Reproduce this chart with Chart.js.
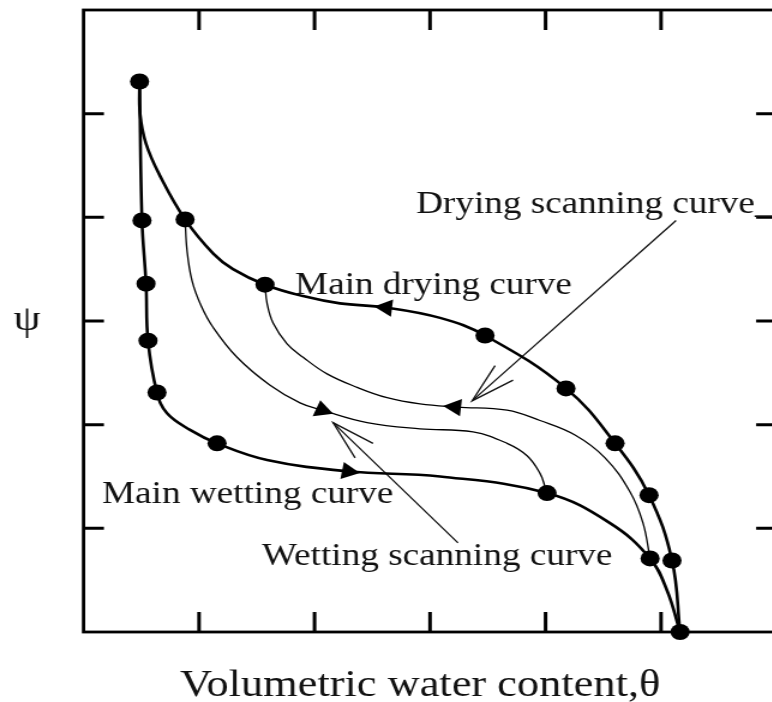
<!DOCTYPE html>
<html>
<head>
<meta charset="utf-8">
<script src="https://cdn.jsdelivr.net/npm/chart.js@4.4.1/dist/chart.umd.min.js"></script>
<style>
    html, body { margin: 0; padding: 0; background: #fff; overflow: hidden; }
    /* the whole figure is drawn a little narrower and stretched sideways */
    #wrap { width: 660px; height: 702px; transform: scaleX(1.2); transform-origin: 0 0; }
    canvas { display: block; }
</style>
</head>
<body>
<div id="wrap"><canvas id="canvasChart" width="660" height="702"></canvas></div>
<script>
// theta in %, psi in arbitrary units
var mainDrying = [
    {x: 4.85, y: 5.31}, {x: 4.89, y: 5.00}, {x: 5.41, y: 4.71}, {x: 6.62, y: 4.40},
    {x: 8.79, y: 3.98}, {x: 11.23, y: 3.65}, {x: 12.94, y: 3.50}, {x: 15.71, y: 3.35},
    {x: 19.00, y: 3.24}, {x: 22.20, y: 3.17}, {x: 26.19, y: 3.13}, {x: 30.87, y: 3.03},
    {x: 34.76, y: 2.86}, {x: 41.77, y: 2.35}, {x: 46.02, y: 1.82}, {x: 48.96, y: 1.32},
    {x: 50.95, y: 0.69}, {x: 51.65, y: 0.00}
];
var mainWetting = [
    {x: 4.85, y: 5.31}, {x: 5.06, y: 3.97}, {x: 5.41, y: 3.36}, {x: 5.58, y: 2.81},
    {x: 6.36, y: 2.31}, {x: 7.23, y: 2.11}, {x: 9.22, y: 1.95}, {x: 11.56, y: 1.82},
    {x: 15.89, y: 1.66}, {x: 22.90, y: 1.55}, {x: 30.87, y: 1.50}, {x: 40.13, y: 1.34},
    {x: 45.58, y: 1.05}, {x: 49.05, y: 0.71}, {x: 50.52, y: 0.40}, {x: 51.65, y: 0.00}
];
var dryingScan = [
    {x: 15.71, y: 3.35}, {x: 15.89, y: 3.17}, {x: 16.41, y: 2.98}, {x: 17.62, y: 2.78},
    {x: 19.01, y: 2.65}, {x: 21.08, y: 2.49}, {x: 23.68, y: 2.36}, {x: 26.28, y: 2.26},
    {x: 29.13, y: 2.20}, {x: 32.34, y: 2.17}, {x: 36.67, y: 2.14}, {x: 39.52, y: 2.04},
    {x: 42.55, y: 1.90}, {x: 45.15, y: 1.68}, {x: 47.32, y: 1.35}, {x: 48.44, y: 1.05},
    {x: 49.05, y: 0.71}
];
var wettingScan = [
    {x: 8.79, y: 3.98}, {x: 8.96, y: 3.68}, {x: 9.39, y: 3.39}, {x: 10.17, y: 3.15},
    {x: 11.21, y: 2.94}, {x: 13.29, y: 2.65}, {x: 16.15, y: 2.38}, {x: 18.74, y: 2.21},
    {x: 20.65, y: 2.14}, {x: 24.55, y: 2.02}, {x: 29.13, y: 1.96}, {x: 33.72, y: 1.93},
    {x: 36.67, y: 1.82}, {x: 38.40, y: 1.70}, {x: 39.52, y: 1.53}, {x: 39.96, y: 1.40},
    {x: 40.13, y: 1.34}
];
var measured = [
    {x: 4.85, y: 5.31}, {x: 5.06, y: 3.97}, {x: 5.41, y: 3.36}, {x: 5.58, y: 2.81},
    {x: 6.36, y: 2.31}, {x: 11.56, y: 1.82}, {x: 40.13, y: 1.34}, {x: 49.05, y: 0.71},
    {x: 51.65, y: 0.00}, {x: 50.95, y: 0.69}, {x: 48.96, y: 1.32}, {x: 46.02, y: 1.82},
    {x: 41.77, y: 2.35}, {x: 34.76, y: 2.86}, {x: 15.71, y: 3.35}, {x: 8.79, y: 3.98}
];

// direction marks: where they sit, which curve they follow, and which way (-1 = drying)
var arrowHeads = [{x: 26.19, y: 3.13}, {x: 32.16, y: 2.17}, {x: 20.65, y: 2.14}, {x: 22.90, y: 1.55}];
var arrowPaths = [mainDrying, dryingScan, wettingScan, mainWetting];
var arrowDirs = [-1, -1, 1, 1];

// leader lines from the labels
var leaderDrying = [{x: 51.30, y: 3.97}, {x: 33.64, y: 2.23}];
var barbsDrying = [{x: 35.63, y: 2.57}, {x: 33.64, y: 2.23}, {x: 37.19, y: 2.43}];
var leaderWetting = [{x: 32.42, y: 0.86}, {x: 21.60, y: 2.02}];
var barbsWetting = [{x: 25.06, y: 1.82}, {x: 21.60, y: 2.02}, {x: 23.51, y: 1.68}];

var notes = [
    {text: 'Drying scanning curve_', x: 28.79, y: 4.04},
    {text: 'Main drying curve', x: 18.31, y: 3.26},
    {text: 'Main wetting curve', x: 1.60, y: 1.24},
    {text: 'Wetting scanning curve', x: 15.45, y: 0.65}
];

var SERIF = '"Liberation Serif", "Times New Roman", serif';

function heading(ctx) {
    var path = arrowPaths[ctx.dataIndex];
    if (!path || !ctx.raw) return 0;
    var sx = ctx.chart.scales.x, sy = ctx.chart.scales.y;
    var i = 1;
    while (i < path.length - 1 && path[i].x < ctx.raw.x) i++;
    var a = path[i - 1], b = path[i];
    var dx = (sx.getPixelForValue(b.x) - sx.getPixelForValue(a.x)) * arrowDirs[ctx.dataIndex];
    var dy = (sy.getPixelForValue(b.y) - sy.getPixelForValue(a.y)) * arrowDirs[ctx.dataIndex];
    return Math.atan2(dx, -dy) * 180 / Math.PI;
}

// box with inward ticks, labels and axis titles
var framePlugin = {
    id: 'frame',
    beforeDatasetsDraw: function (chart) {
        var ctx = chart.ctx, a = chart.chartArea;
        var sx = chart.scales.x, sy = chart.scales.y;
        ctx.save();
        ctx.strokeStyle = '#000';
        ctx.lineWidth = 2.8;
        ctx.strokeRect(a.left, a.top, a.right - a.left, a.bottom - a.top);
        ctx.lineWidth = 3;
        ctx.beginPath();
        sx.ticks.forEach(function (t) {
            if (t.value <= sx.min || t.value >= sx.max) return;
            var px = sx.getPixelForValue(t.value);
            ctx.moveTo(px, a.bottom); ctx.lineTo(px, a.bottom - 20);
            ctx.moveTo(px, a.top); ctx.lineTo(px, a.top + 20);
        });
        sy.ticks.forEach(function (t) {
            if (t.value <= sy.min || t.value >= sy.max) return;
            var py = sy.getPixelForValue(t.value);
            ctx.moveTo(a.left, py); ctx.lineTo(a.left + 17, py);
            ctx.moveTo(a.right, py); ctx.lineTo(a.right - 17, py);
        });
        ctx.stroke();
        ctx.restore();
    },
    afterDraw: function (chart) {
        var ctx = chart.ctx, a = chart.chartArea;
        var sx = chart.scales.x, sy = chart.scales.y;
        ctx.save();
        ctx.fillStyle = '#111';
        ctx.textBaseline = 'alphabetic';
        ctx.textAlign = 'left';
        ctx.font = '31px ' + SERIF;
        notes.forEach(function (n) {
            ctx.fillText(n.text, sx.getPixelForValue(n.x), sy.getPixelForValue(n.y));
        });

        ctx.font = '37px ' + SERIF;
        ctx.fillText('Volumetric water content,\u03b8', sx.getPixelForValue(8.35), a.bottom + 64);

        ctx.font = '36px ' + SERIF;
        ctx.textAlign = 'center';
        ctx.textBaseline = 'middle';
        ctx.fillText('\u03c8', a.left - 47, sy.getPixelForValue((sy.min + sy.max) / 2));
        ctx.restore();
    }
};

function curve(data, width) {
    return {
        data: data,
        showLine: true,
        borderColor: '#000',
        borderWidth: width,
        tension: 0.4,
        pointRadius: 0,
        clip: false
    };
}

function leader(data) {
    return {
        data: data,
        showLine: true,
        borderColor: '#111',
        borderWidth: 1.3,
        tension: 0,
        pointRadius: 0,
        clip: false
    };
}

var canvas = document.getElementById('canvasChart').getContext('2d');

var chartObject = new Chart(canvas, {
    type: 'scatter',
    data: {
        datasets: [
            {
                data: measured,
                pointRadius: 8,
                pointBackgroundColor: '#000',
                pointBorderWidth: 0,
                clip: false
            },
            {
                data: arrowHeads,
                pointStyle: 'triangle',
                pointRadius: 10,
                pointRotation: heading,
                pointBackgroundColor: '#000',
                pointBorderWidth: 0,
                clip: false
            },
            curve(mainDrying, 2.6),
            curve(mainWetting, 2.6),
            curve(dryingScan, 1.3),
            curve(wettingScan, 1.3),
            leader(leaderDrying),
            leader(barbsDrying),
            leader(leaderWetting),
            leader(barbsWetting)
        ]
    },
    options: {
        responsive: false,
        animation: false,
        layout: {
            padding: {left: 69.6, right: 12.9, top: 9.5, bottom: 70}
        },
        plugins: {
            legend: {display: false},
            tooltip: {enabled: false}
        },
        scales: {
            x: {type: 'linear', display: false, min: 0, max: 60, ticks: {stepSize: 10}},
            y: {type: 'linear', display: false, min: 0, max: 6, ticks: {stepSize: 1}}
        }
    },
    plugins: [framePlugin]
});
</script>
</body>
</html>
